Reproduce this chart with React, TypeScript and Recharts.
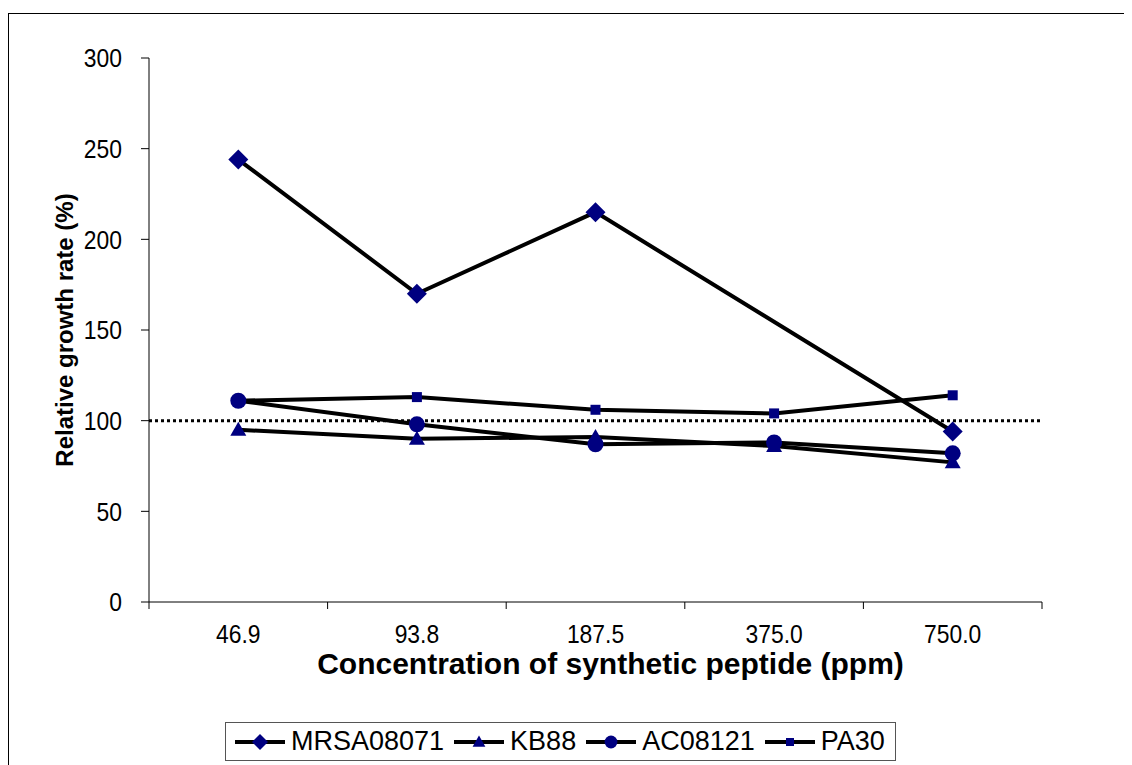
import React from "react";
import { Legend, Line, LineChart, ReferenceLine, XAxis, YAxis } from "recharts";

const categories = ["46.9", "93.8", "187.5", "375.0", "750.0"];
const mrsa08071 = [244, 170, 215, null, 94];
const kb88 = [95, 90, 91, 86, 77];
const ac08121 = [111, 98, 87, 88, 82];
const pa30 = [111, 113, 106, 104, 114];
const yTicks = [0, 50, 100, 150, 200, 250, 300];
const referenceValue = 100;

const FONT = '"Liberation Sans", Arial, sans-serif';
const MARK = "#000080";

// x runs 0..5, one unit per category; points sit in the middle of each band
const data = categories.map((c, i) => ({
  x: i + 0.5,
  name: c,
  MRSA08071: mrsa08071[i],
  KB88: kb88[i],
  AC08121: ac08121[i],
  PA30: pa30[i]
}));
const xTicks = [0, 0.5, 1, 1.5, 2, 2.5, 3, 3.5, 4, 4.5, 5];

type Shape = "diamond" | "triangle" | "circle" | "square";

function marker(shape: Shape, cx: number, cy: number, s = 1) {
  if (shape === "diamond") {
    const r = 10 * s;
    return <path d={`M${cx},${cy - r}L${cx + r},${cy}L${cx},${cy + r}L${cx - r},${cy}Z`} fill={MARK} />;
  }
  if (shape === "triangle") {
    const w = 8 * s;
    return <path d={`M${cx},${cy - 8 * s}L${cx + w},${cy + 6 * s}L${cx - w},${cy + 6 * s}Z`} fill={MARK} />;
  }
  if (shape === "circle") return <circle cx={cx} cy={cy} r={8 * s} fill={MARK} />;
  const h = 5 * s;
  return <rect x={cx - h} y={cy - h} width={h * 2} height={h * 2} fill={MARK} />;
}

const makeDot = (shape: Shape) => (props: any) => {
  const { cx, cy, index, value } = props;
  if (value == null || cx == null || cy == null) return <g key={`${shape}-${index}`} />;
  return <g key={`${shape}-${index}`}>{marker(shape, cx, cy)}</g>;
};

const series: { key: string; shape: Shape }[] = [
  { key: "MRSA08071", shape: "diamond" },
  { key: "KB88", shape: "triangle" },
  { key: "AC08121", shape: "circle" },
  { key: "PA30", shape: "square" }
];

const squeeze = (x: number) => `translate(${x},0) scale(0.88,1) translate(${-x},0)`;

const XTick = (props: any) => {
  const { x, y, payload } = props;
  const v = payload.value as number;
  if (Number.isInteger(v)) {
    return <line x1={x} x2={x} y1={y} y2={y + 7} stroke="#000" strokeWidth={1} />;
  }
  return (
    <text x={x} y={y + 41} textAnchor="middle" fontFamily={FONT} fontSize={26} fill="#000" transform={squeeze(x)}>
      {categories[Math.floor(v)]}
    </text>
  );
};

const YTick = (props: any) => {
  const { x, y, payload } = props;
  return (
    <text x={x} y={y} dy="0.36em" textAnchor="end" fontFamily={FONT} fontSize={26} fill="#000" transform={squeeze(x)}>
      {payload.value}
    </text>
  );
};

const LegendBox = () => (
  <div
    style={{
      marginLeft: 216,
      display: "inline-flex",
      alignItems: "center",
      border: "1px solid #555",
      padding: "3px 10px 3px 9px",
      fontFamily: FONT,
      fontSize: 27,
      lineHeight: "31px",
      color: "#000",
      background: "#fff"
    }}
  >
    {series.map((s, i) => (
      <div key={s.key} style={{ display: "flex", alignItems: "center", marginRight: i < series.length - 1 ? 10 : 0 }}>
        <svg width={50} height={28}>
          <line x1={0} x2={50} y1={14} y2={14} stroke="#000" strokeWidth={4} />
          {marker(s.shape, 25, 14, 0.8)}
        </svg>
        <span style={{ marginLeft: 6 }}>{s.key}</span>
      </div>
    ))}
  </div>
);

export default function App() {
  return (
    <div style={{ paddingTop: 5 }}>
      <div style={{ borderTop: "1px solid #000", borderLeft: "1px solid #000", width: 1123, height: 751, background: "#fff" }}>
        <LineChart width={1123} height={751} data={data} margin={{ top: 44, right: 90, left: 0, bottom: 4 }}>
          <XAxis
            dataKey="x"
            type="number"
            domain={[0, 5]}
            ticks={xTicks}
            interval={0}
            tick={<XTick />}
            tickLine={false}
            tickSize={0}
            tickMargin={0}
            height={120}
            axisLine={{ stroke: "#000", strokeWidth: 1 }}
            label={{
              value: "Concentration of synthetic peptide (ppm)",
              position: "insideTop",
              offset: 51,
              dx: 15,
              style: { fontFamily: FONT, fontSize: 30, fontWeight: "bold", fill: "#000" }
            }}
          />
          <YAxis
            type="number"
            domain={[0, 300]}
            ticks={yTicks}
            interval={0}
            width={140}
            tickSize={8}
            tickMargin={19}
            tickLine={{ stroke: "#000" }}
            axisLine={{ stroke: "#000", strokeWidth: 1 }}
            tick={<YTick />}
            label={{
              value: "Relative growth rate (%)",
              angle: -90,
              position: "center",
              dx: -15,
              style: { fontFamily: FONT, fontSize: 24, fontWeight: "bold", fill: "#000", textAnchor: "middle" }
            }}
          />
          <ReferenceLine y={referenceValue} stroke="#000" strokeWidth={3} strokeDasharray="3 3" ifOverflow="extendDomain" />
          {series.map((s) => (
            <Line
              key={s.key}
              dataKey={s.key}
              type="linear"
              stroke="#000"
              strokeWidth={4}
              connectNulls
              dot={makeDot(s.shape)}
              activeDot={false}
              isAnimationActive={false}
            />
          ))}
          <Legend verticalAlign="bottom" align="left" content={<LegendBox />} />
        </LineChart>
      </div>
    </div>
  );
}
